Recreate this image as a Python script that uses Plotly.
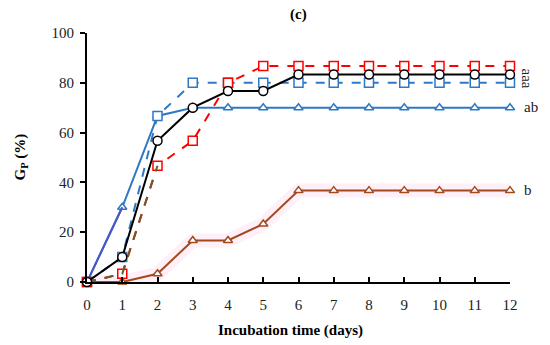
import plotly.graph_objects as go

days = list(range(0, 13))
red_dash = [0, 3.3, 46.7, 56.7, 80, 86.7, 86.7, 86.7, 86.7, 86.7, 86.7, 86.7, 86.7]
black_solid = [0, 10, 56.7, 70, 76.7, 76.7, 83.3, 83.3, 83.3, 83.3, 83.3, 83.3, 83.3]
blue_dash = [0, 10, 66.7, 80, 80, 80, 80, 80, 80, 80, 80, 80, 80]
blue_solid = [0, 30, 66.7, 70, 70, 70, 70, 70, 70, 70, 70, 70, 70]
brown_solid = [0, 0, 3.3, 16.7, 16.7, 23.3, 36.7, 36.7, 36.7, 36.7, 36.7, 36.7, 36.7]
group_labels = ["aaa", "ab", "b"]

FONT = "Liberation Serif"
fig = go.Figure()

# pink glow behind the brown series
fig.add_trace(go.Scatter(x=days, y=brown_solid, mode="lines",
                         line=dict(color="rgba(255,120,200,0.12)", width=14),
                         hoverinfo="skip", showlegend=False, cliponaxis=False))

fig.add_trace(go.Scatter(x=days, y=blue_solid, mode="lines+markers",
                         line=dict(color="#2f78c4", width=2),
                         marker=dict(symbol="triangle-up", size=8, color="white",
                                     line=dict(color="#2f78c4", width=1.5)),
                         cliponaxis=False, showlegend=False))
fig.add_trace(go.Scatter(x=days[:2], y=blue_solid[:2], mode="lines",
                         line=dict(color="#4a55c8", width=2),
                         cliponaxis=False, showlegend=False))
fig.add_trace(go.Scatter(x=days, y=blue_dash, mode="lines+markers",
                         line=dict(color="#2f78c4", width=2, dash="dash"),
                         marker=dict(symbol="square", size=9, color="white",
                                     line=dict(color="#2f78c4", width=1.5)),
                         cliponaxis=False, showlegend=False))
fig.add_trace(go.Scatter(x=days, y=red_dash, mode="lines+markers",
                         line=dict(color="#ff0000", width=2, dash="dash"),
                         marker=dict(symbol="square", size=9, color="white",
                                     line=dict(color="#ff0000", width=1.5)),
                         cliponaxis=False, showlegend=False))
fig.add_trace(go.Scatter(x=days[:3], y=red_dash[:3], mode="lines",
                         line=dict(color="#6b5a2a", width=2, dash="dash"),
                         cliponaxis=False, showlegend=False))
fig.add_trace(go.Scatter(x=days, y=brown_solid, mode="lines+markers",
                         line=dict(color="#a24a1c", width=2),
                         marker=dict(symbol="triangle-up", size=8, color="white",
                                     line=dict(color="#a24a1c", width=1.5)),
                         cliponaxis=False, showlegend=False))
fig.add_trace(go.Scatter(x=days, y=black_solid, mode="lines+markers",
                         line=dict(color="black", width=2),
                         marker=dict(symbol="circle", size=9, color="white",
                                     line=dict(color="black", width=1.5)),
                         cliponaxis=False, showlegend=False))

top_group = (red_dash[-1] + black_solid[-1] + blue_dash[-1]) / 3
fig.add_annotation(x=days[-1], y=top_group, text=group_labels[0], showarrow=False,
                   textangle=90, xshift=17, yshift=-4,
                   font=dict(family=FONT, size=15, color="#222"))
fig.add_annotation(x=days[-1], y=blue_solid[-1], text=group_labels[1], showarrow=False,
                   xanchor="left", xshift=12, yshift=1,
                   font=dict(family=FONT, size=15, color="#222"))
fig.add_annotation(x=days[-1], y=brown_solid[-1], text=group_labels[2], showarrow=False,
                   xanchor="left", xshift=12, yshift=1,
                   font=dict(family=FONT, size=15, color="#222"))

fig.add_annotation(x=0.5, y=1.0, xref="paper", yref="paper", yshift=19,
                   text="<b>(c)</b>", showarrow=False, yanchor="middle",
                   font=dict(family=FONT, size=15, color="black"))

fig.add_annotation(x=0.48, y=0, xref="paper", yref="paper", yshift=-38,
                   text="<b>Incubation time (days)</b>", showarrow=False,
                   xanchor="center", yanchor="top",
                   font=dict(family=FONT, size=15, color="black"))
fig.add_annotation(x=0, y=0.5, xref="paper", yref="paper", xshift=-67,
                   text="<b>G<sub>P</sub> (%)</b>", showarrow=False, textangle=-90,
                   xanchor="center", yanchor="middle",
                   font=dict(family=FONT, size=15, color="black"))

fig.update_layout(
    width=550, height=345,
    margin=dict(l=87, r=40, t=33, b=63),
    plot_bgcolor="white", paper_bgcolor="white",
    font=dict(family=FONT, size=15, color="#222"),
    xaxis=dict(range=[0, 12], tickvals=days, showgrid=False, zeroline=False,
               showline=True, linecolor="black", linewidth=2, automargin=False,
               ticks="inside", ticklen=5, tickwidth=1.5, tickcolor="black",
               ticklabelstandoff=8,
               tickfont=dict(family=FONT, size=15, color="#222")),
    yaxis=dict(range=[0, 100], tickvals=[0, 20, 40, 60, 80, 100], showgrid=False,
               zeroline=False, showline=True, linecolor="black", linewidth=2,
               automargin=False, ticklabelstandoff=3,
               ticks="outside", ticklen=5, tickwidth=1.5, tickcolor="black",
               tickfont=dict(family=FONT, size=15, color="#222")),
)

fig.write_html("out.html", config={"displayModeBar": False},
               post_script="document.body.style.margin='0';document.body.style.overflow='hidden';")
